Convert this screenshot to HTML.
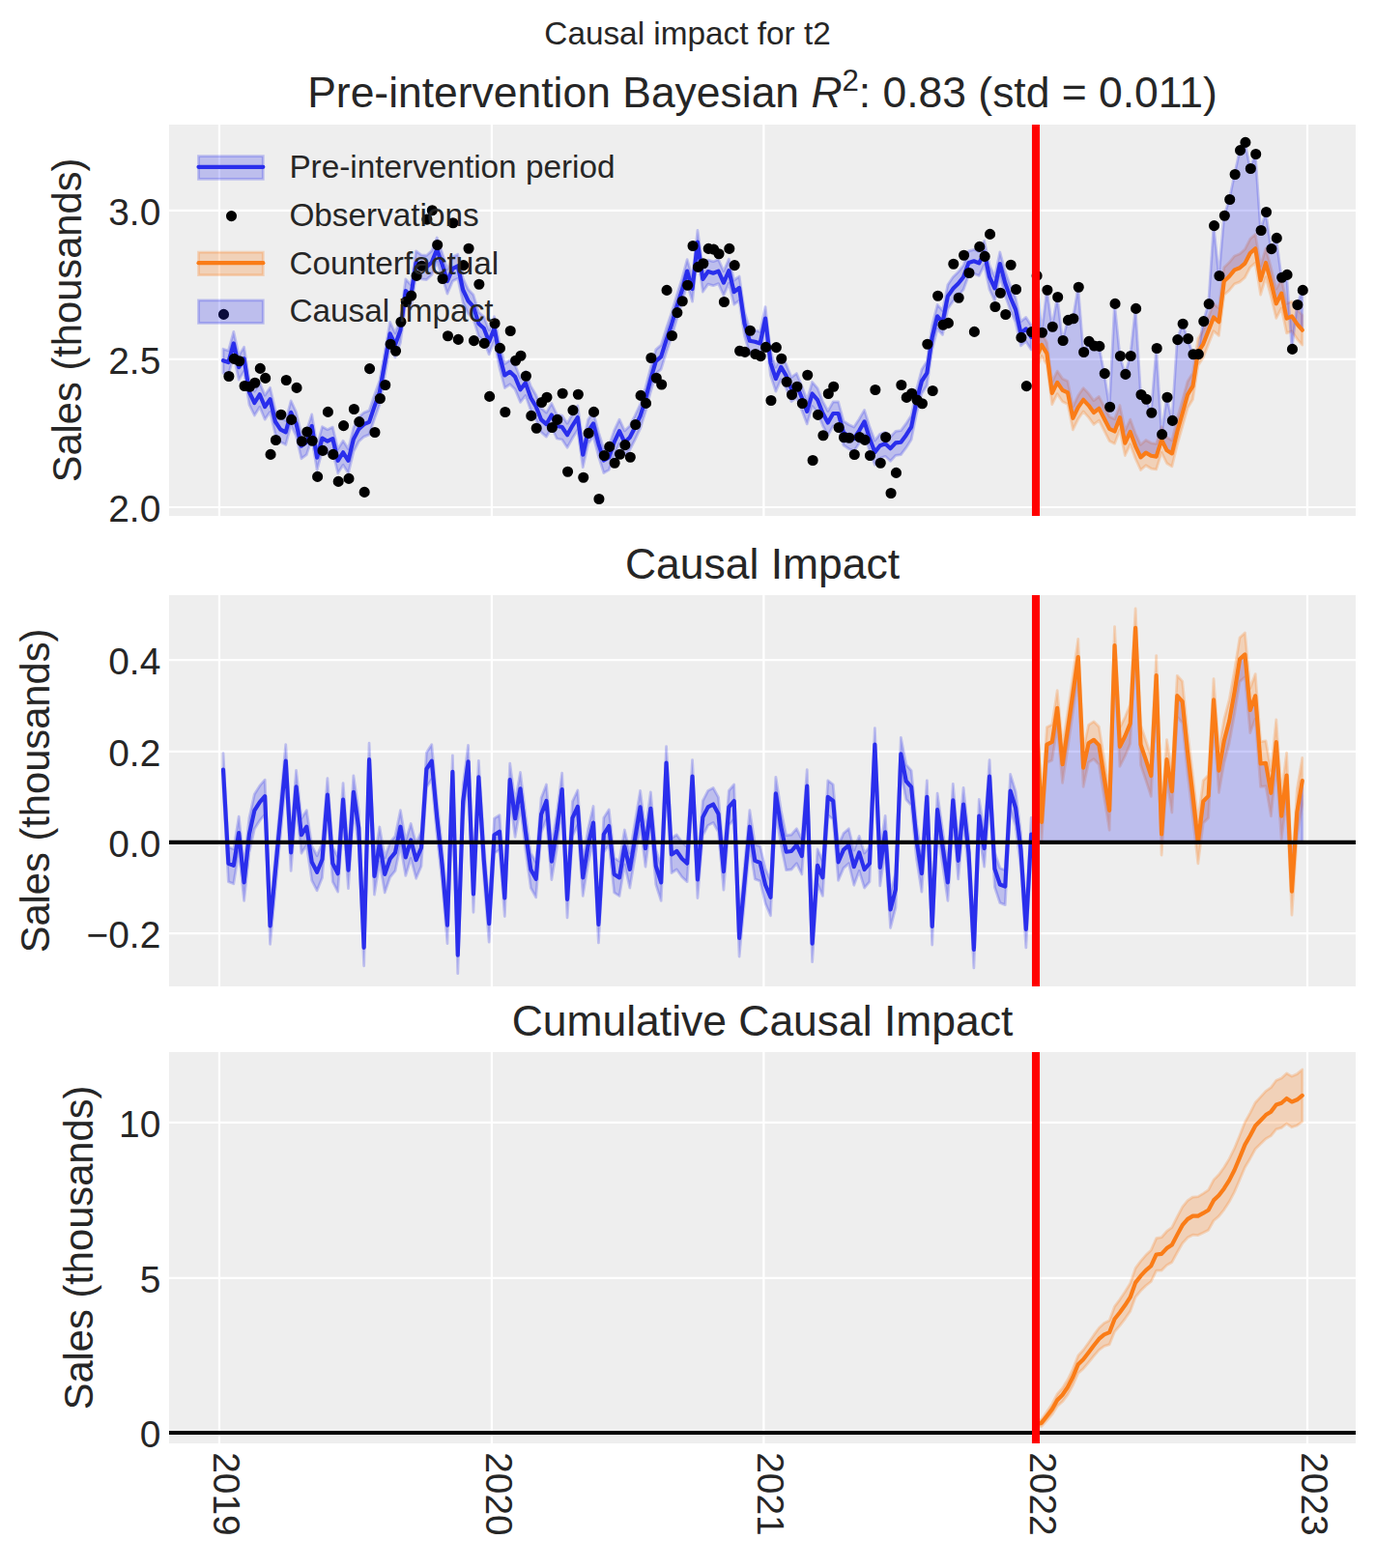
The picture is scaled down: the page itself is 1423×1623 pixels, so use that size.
<!DOCTYPE html>
<html><head><meta charset="utf-8"><title>Causal impact for t2</title>
<style>
html,body{margin:0;padding:0;background:#fff;font-family:"Liberation Sans",sans-serif;}
body{width:1423px;height:1623px;overflow:hidden;}
svg{display:block}
</style></head><body>
<svg width="1423" height="1623" viewBox="0 0 512.28 584.28" style="display:block"><defs><style type="text/css">*{stroke-linejoin: round; stroke-linecap: butt}</style></defs><g id="figure_1"><g id="patch_1"><path d="M 0 584.28 L 512.28 584.28 L 512.28 0 L 0 0 z " style="fill: #ffffff"/></g><g id="axes_1"><g id="patch_2"><path d="M 63 192.24 L 505.08 192.24 L 505.08 46.44 L 63 46.44 z " style="fill: #eeeeee"/></g><g id="matplotlib.axis_1"><g id="xtick_1"><g id="line2d_1"><path d="M 81.72 192.24 L 81.72 46.44 " clip-path="url(#p5110460f84)" style="fill: none; stroke: #ffffff; stroke-width: 0.8; stroke-linecap: round"/></g><g id="line2d_2"/></g><g id="xtick_2"><g id="line2d_3"><path d="M 183.204 192.24 L 183.204 46.44 " clip-path="url(#p5110460f84)" style="fill: none; stroke: #ffffff; stroke-width: 0.8; stroke-linecap: round"/></g><g id="line2d_4"/></g><g id="xtick_3"><g id="line2d_5"><path d="M 284.538727 192.24 L 284.538727 46.44 " clip-path="url(#p5110460f84)" style="fill: none; stroke: #ffffff; stroke-width: 0.8; stroke-linecap: round"/></g><g id="line2d_6"/></g><g id="xtick_4"><g id="line2d_7"><path d="M 385.809363 192.24 L 385.809363 46.44 " clip-path="url(#p5110460f84)" style="fill: none; stroke: #ffffff; stroke-width: 0.8; stroke-linecap: round"/></g><g id="line2d_8"/></g><g id="xtick_5"><g id="line2d_9"><path d="M 487.08 192.24 L 487.08 46.44 " clip-path="url(#p5110460f84)" style="fill: none; stroke: #ffffff; stroke-width: 0.8; stroke-linecap: round"/></g><g id="line2d_10"/></g></g><g id="matplotlib.axis_2"><g id="ytick_1"><g id="line2d_11"><path d="M 63 189 L 505.08 189 " clip-path="url(#p5110460f84)" style="fill: none; stroke: #ffffff; stroke-width: 0.8; stroke-linecap: round"/></g><g id="line2d_12"/><g id="text_1"><text x="59.86" y="194.318906" font-size="14" text-anchor="end" fill="#262626" font-family="Liberation Sans, sans-serif">2.0</text></g></g><g id="ytick_2"><g id="line2d_13"><path d="M 63 133.884 L 505.08 133.884 " clip-path="url(#p5110460f84)" style="fill: none; stroke: #ffffff; stroke-width: 0.8; stroke-linecap: round"/></g><g id="line2d_14"/><g id="text_2"><text x="59.86" y="139.202906" font-size="14" text-anchor="end" fill="#262626" font-family="Liberation Sans, sans-serif">2.5</text></g></g><g id="ytick_3"><g id="line2d_15"><path d="M 63 78.408 L 505.08 78.408 " clip-path="url(#p5110460f84)" style="fill: none; stroke: #ffffff; stroke-width: 0.8; stroke-linecap: round"/></g><g id="line2d_16"/><g id="text_3"><text x="59.86" y="83.726906" font-size="14" text-anchor="end" fill="#262626" font-family="Liberation Sans, sans-serif">3.0</text></g></g><g id="text_4"><text transform="translate(30.116094 119.34) rotate(-90)" font-size="15" text-anchor="middle" fill="#262626" font-family="Liberation Sans, sans-serif">Sales (thousands)</text></g></g><g id="FillBetweenPolyCollection_1"><defs><path id="me326598891" d="M 83.16 -445.248 L 83.16 -454.248 L 85.102177 -453.6 L 87.044353 -460.656 L 88.98653 -451.764 L 90.928706 -454.968 L 92.870883 -442.512 L 94.81306 -438.48 L 96.755236 -441.612 L 98.697413 -437.004 L 100.639589 -439.812 L 102.581766 -431.46 L 104.523943 -428.544 L 106.466119 -427.572 L 108.408296 -434.952 L 110.350472 -430.74 L 112.292649 -422.388 L 114.234825 -423.864 L 116.177002 -429.876 L 118.119179 -418.104 L 120.061355 -425.304 L 122.003532 -424.188 L 123.945708 -425.124 L 125.887885 -416.952 L 127.830062 -420.012 L 129.772238 -416.952 L 131.714415 -424.944 L 133.656591 -428.724 L 135.598768 -430.524 L 137.540945 -431.316 L 139.483121 -437.076 L 141.425298 -442.476 L 143.367474 -453.204 L 145.309651 -464.292 L 147.251828 -460.152 L 149.194004 -465.588 L 151.136181 -480.24 L 153.078357 -478.188 L 155.020534 -490.752 L 156.96271 -489.312 L 158.904887 -489.06 L 160.847064 -490.86 L 162.78924 -495.72 L 164.731417 -490.104 L 166.673593 -483.84 L 168.61577 -488.484 L 170.557947 -489.492 L 172.500123 -480.6 L 174.4423 -476.46 L 176.384476 -474.372 L 178.326653 -468 L 180.26883 -466.308 L 182.211006 -461.268 L 184.153183 -466.308 L 186.095359 -456.228 L 188.037536 -448.74 L 189.979713 -450.072 L 191.921889 -448.164 L 193.864066 -443.412 L 195.806242 -445.896 L 197.748419 -440.388 L 199.690595 -437.148 L 201.632772 -432.216 L 203.574949 -430.524 L 205.517125 -433.98 L 207.459302 -429.84 L 209.401478 -429.48 L 211.343655 -426.528 L 213.285832 -429.984 L 215.228008 -433.08 L 217.170185 -419.148 L 219.112361 -427.896 L 221.054538 -430.74 L 222.996715 -423.252 L 224.938891 -417.06 L 226.881068 -418.176 L 228.823244 -423.828 L 230.765421 -427.968 L 232.707598 -423.756 L 234.649774 -425.628 L 236.591951 -429.408 L 238.534127 -433.584 L 240.476304 -439.812 L 242.41848 -447.3 L 244.360657 -453.996 L 246.302834 -455.724 L 248.24501 -461.952 L 250.187187 -467.64 L 252.129363 -474.228 L 254.07154 -480.348 L 256.013717 -487.584 L 257.955893 -480.96 L 259.89807 -498.42 L 261.840246 -484.56 L 263.782423 -487.404 L 265.7246 -486.828 L 267.666776 -487.584 L 269.608953 -483.228 L 271.551129 -487.764 L 273.493306 -479.808 L 275.435483 -481.32 L 277.377659 -468.036 L 279.319836 -461.592 L 281.262012 -461.232 L 283.204189 -460.656 L 285.146366 -469.944 L 287.088542 -453.384 L 289.030719 -447.444 L 290.972895 -451.872 L 292.915072 -448.596 L 294.857248 -443.664 L 296.799425 -445.14 L 298.741602 -440.388 L 300.683778 -435.276 L 302.625955 -441.9 L 304.568131 -439.632 L 306.510308 -434.7 L 308.452485 -431.1 L 310.394661 -434.52 L 312.336838 -434.52 L 314.279014 -427.392 L 316.221191 -426.06 L 318.163368 -425.16 L 320.105544 -428.112 L 322.047721 -431.496 L 323.989897 -425.232 L 325.932074 -420.084 L 327.874251 -422.568 L 329.816427 -423.252 L 331.758604 -421.488 L 333.70078 -423.576 L 335.642957 -423.828 L 337.585133 -426.456 L 339.52731 -429.516 L 341.469487 -439.128 L 343.411663 -446.58 L 345.35384 -449.604 L 347.296016 -462.996 L 349.238193 -470.772 L 351.18037 -468.54 L 353.122546 -478.188 L 355.064723 -481.032 L 357.006899 -482.94 L 358.949076 -485.388 L 360.891253 -490.716 L 362.833429 -491.292 L 364.775606 -490.536 L 366.717782 -494.532 L 368.659959 -485.388 L 370.602136 -481.212 L 372.544312 -490.32 L 374.486489 -483.12 L 376.428665 -477.792 L 378.370842 -473.256 L 380.313018 -464.472 L 382.255195 -466.056 L 384.197372 -462.996 L 384.197372 -453.996 L 384.197372 -453.996 L 382.255195 -457.056 L 380.313018 -455.472 L 378.370842 -464.256 L 376.428665 -468.792 L 374.486489 -474.12 L 372.544312 -481.32 L 370.602136 -472.212 L 368.659959 -476.388 L 366.717782 -485.532 L 364.775606 -481.536 L 362.833429 -482.292 L 360.891253 -481.716 L 358.949076 -476.388 L 357.006899 -473.94 L 355.064723 -472.032 L 353.122546 -469.188 L 351.18037 -459.54 L 349.238193 -461.772 L 347.296016 -453.996 L 345.35384 -440.604 L 343.411663 -437.58 L 341.469487 -430.128 L 339.52731 -420.516 L 337.585133 -417.456 L 335.642957 -414.828 L 333.70078 -414.576 L 331.758604 -412.488 L 329.816427 -414.252 L 327.874251 -413.568 L 325.932074 -411.084 L 323.989897 -416.232 L 322.047721 -422.496 L 320.105544 -419.112 L 318.163368 -416.16 L 316.221191 -417.06 L 314.279014 -418.392 L 312.336838 -425.52 L 310.394661 -425.52 L 308.452485 -422.1 L 306.510308 -425.7 L 304.568131 -430.632 L 302.625955 -432.9 L 300.683778 -426.276 L 298.741602 -431.388 L 296.799425 -436.14 L 294.857248 -434.664 L 292.915072 -439.596 L 290.972895 -442.872 L 289.030719 -438.444 L 287.088542 -444.384 L 285.146366 -460.944 L 283.204189 -451.656 L 281.262012 -452.232 L 279.319836 -452.592 L 277.377659 -459.036 L 275.435483 -472.32 L 273.493306 -470.808 L 271.551129 -478.764 L 269.608953 -474.228 L 267.666776 -478.584 L 265.7246 -477.828 L 263.782423 -478.404 L 261.840246 -475.56 L 259.89807 -489.42 L 257.955893 -471.96 L 256.013717 -478.584 L 254.07154 -471.348 L 252.129363 -465.228 L 250.187187 -458.64 L 248.24501 -452.952 L 246.302834 -446.724 L 244.360657 -444.996 L 242.41848 -438.3 L 240.476304 -430.812 L 238.534127 -424.584 L 236.591951 -420.408 L 234.649774 -416.628 L 232.707598 -414.756 L 230.765421 -418.968 L 228.823244 -414.828 L 226.881068 -409.176 L 224.938891 -408.06 L 222.996715 -414.252 L 221.054538 -421.74 L 219.112361 -418.896 L 217.170185 -410.148 L 215.228008 -424.08 L 213.285832 -420.984 L 211.343655 -417.528 L 209.401478 -420.48 L 207.459302 -420.84 L 205.517125 -424.98 L 203.574949 -421.524 L 201.632772 -423.216 L 199.690595 -428.148 L 197.748419 -431.388 L 195.806242 -436.896 L 193.864066 -434.412 L 191.921889 -439.164 L 189.979713 -441.072 L 188.037536 -439.74 L 186.095359 -447.228 L 184.153183 -457.308 L 182.211006 -452.268 L 180.26883 -457.308 L 178.326653 -459 L 176.384476 -465.372 L 174.4423 -467.46 L 172.500123 -471.6 L 170.557947 -480.492 L 168.61577 -479.484 L 166.673593 -474.84 L 164.731417 -481.104 L 162.78924 -486.72 L 160.847064 -481.86 L 158.904887 -480.06 L 156.96271 -480.312 L 155.020534 -481.752 L 153.078357 -469.188 L 151.136181 -471.24 L 149.194004 -456.588 L 147.251828 -451.152 L 145.309651 -455.292 L 143.367474 -444.204 L 141.425298 -433.476 L 139.483121 -428.076 L 137.540945 -422.316 L 135.598768 -421.524 L 133.656591 -419.724 L 131.714415 -415.944 L 129.772238 -407.952 L 127.830062 -411.012 L 125.887885 -407.952 L 123.945708 -416.124 L 122.003532 -415.188 L 120.061355 -416.304 L 118.119179 -409.104 L 116.177002 -420.876 L 114.234825 -414.864 L 112.292649 -413.388 L 110.350472 -421.74 L 108.408296 -425.952 L 106.466119 -418.572 L 104.523943 -419.544 L 102.581766 -422.46 L 100.639589 -430.812 L 98.697413 -428.004 L 96.755236 -432.612 L 94.81306 -429.48 L 92.870883 -433.512 L 90.928706 -445.968 L 88.98653 -442.764 L 87.044353 -451.656 L 85.102177 -444.6 L 83.16 -445.248 z " style="stroke: #2a2eec; stroke-opacity: 0.25"/></defs><g clip-path="url(#p5110460f84)"><use href="#me326598891" x="0" y="584.28" style="fill: #2a2eec; fill-opacity: 0.25; stroke: #2a2eec; stroke-opacity: 0.25"/></g></g><g id="FillBetweenPolyCollection_2"><defs><path id="m8832129d74" d="M 386.139548 -446.688 L 386.139548 -454.968 L 388.081725 -459.964235 L 390.023901 -456.788471 L 391.966078 -442.020706 L 393.908255 -446.008941 L 395.850431 -443.193176 L 397.792608 -442.285412 L 399.734784 -432.809647 L 401.676961 -436.833882 L 403.619138 -439.706118 L 405.561314 -437.646353 L 407.503491 -435.010588 L 409.445667 -436.550824 L 411.387844 -432.799059 L 413.330021 -429.047294 L 415.272197 -428.103529 L 417.214374 -433.279765 L 419.15655 -423.804 L 421.098727 -428.008235 L 423.040903 -422.708471 L 424.98308 -418.560706 L 426.925257 -420.316941 L 428.867433 -419.193176 L 430.80961 -418.933412 L 432.751786 -425.261647 L 434.693963 -421.365882 L 436.63614 -420.170118 L 438.578316 -428.262353 L 440.520493 -435.130588 L 442.462669 -442.178824 L 444.404846 -445.375059 L 446.347023 -458.075294 L 448.289199 -461.127529 L 450.231376 -466.159765 L 452.173552 -471.12 L 454.115729 -469.456235 L 456.057906 -484.676471 L 458.000082 -486.504706 L 459.942259 -488.908941 L 461.884435 -489.693176 L 463.826612 -491.413412 L 465.768789 -495.257647 L 467.710965 -496.977882 L 469.653142 -485.162118 L 471.595318 -491.742353 L 473.537495 -484.570588 L 475.479671 -476.570824 L 477.421848 -480.415059 L 479.364025 -471.119294 L 481.306201 -471.939529 L 483.248378 -469.087765 L 485.190554 -466.848 L 485.190554 -455.688 L 485.190554 -455.688 L 483.248378 -457.984235 L 481.306201 -460.892471 L 479.364025 -460.128706 L 477.421848 -469.480941 L 475.479671 -465.693176 L 473.537495 -473.749412 L 471.595318 -480.977647 L 469.653142 -474.453882 L 467.710965 -486.326118 L 465.768789 -484.662353 L 463.826612 -480.874588 L 461.884435 -479.210824 L 459.942259 -478.483059 L 458.000082 -476.135294 L 456.057906 -474.363529 L 454.115729 -459.199765 L 452.173552 -460.92 L 450.231376 -456.016235 L 448.289199 -451.040471 L 446.347023 -448.044706 L 444.404846 -435.400941 L 442.462669 -432.261176 L 440.520493 -425.269412 L 438.578316 -418.457647 L 436.63614 -410.421882 L 434.693963 -411.674118 L 432.751786 -415.626353 L 430.80961 -409.354588 L 428.867433 -409.670824 L 426.925257 -410.851059 L 424.98308 -409.151294 L 423.040903 -413.355529 L 421.098727 -418.711765 L 419.15655 -414.564 L 417.214374 -424.096235 L 415.272197 -418.976471 L 413.330021 -419.976706 L 411.387844 -423.784941 L 409.445667 -427.593176 L 407.503491 -426.109412 L 405.561314 -428.801647 L 403.619138 -430.917882 L 401.676961 -428.102118 L 399.734784 -424.134353 L 397.792608 -433.666588 L 395.850431 -434.630824 L 393.908255 -437.503059 L 391.966078 -433.571294 L 390.023901 -448.395529 L 388.081725 -451.627765 L 386.139548 -446.688 z " style="stroke: #fa7c17; stroke-opacity: 0.25"/></defs><g clip-path="url(#p5110460f84)"><use href="#m8832129d74" x="0" y="584.28" style="fill: #fa7c17; fill-opacity: 0.25; stroke: #fa7c17; stroke-opacity: 0.25"/></g></g><g id="FillBetweenPolyCollection_3"><defs><path id="m20f4b6eb86" d="M 386.139548 -481.536 L 386.139548 -450.828 L 388.081725 -455.796 L 390.023901 -452.592 L 391.966078 -437.796 L 393.908255 -441.756 L 395.850431 -438.912 L 397.792608 -437.976 L 399.734784 -428.472 L 401.676961 -432.468 L 403.619138 -435.312 L 405.561314 -433.224 L 407.503491 -430.56 L 409.445667 -432.072 L 411.387844 -428.292 L 413.330021 -424.512 L 415.272197 -423.54 L 417.214374 -428.688 L 419.15655 -419.184 L 421.098727 -423.36 L 423.040903 -418.032 L 424.98308 -413.856 L 426.925257 -415.584 L 428.867433 -414.432 L 430.80961 -414.144 L 432.751786 -420.444 L 434.693963 -416.52 L 436.63614 -415.296 L 438.578316 -423.36 L 440.520493 -430.2 L 442.462669 -437.22 L 444.404846 -440.388 L 446.347023 -453.06 L 448.289199 -456.084 L 450.231376 -461.088 L 452.173552 -466.02 L 454.115729 -464.328 L 456.057906 -479.52 L 458.000082 -481.32 L 459.942259 -483.696 L 461.884435 -484.452 L 463.826612 -486.144 L 465.768789 -489.96 L 467.710965 -491.652 L 469.653142 -479.808 L 471.595318 -486.36 L 473.537495 -479.16 L 475.479671 -471.132 L 477.421848 -474.948 L 479.364025 -465.624 L 481.306201 -466.416 L 483.248378 -463.536 L 485.190554 -461.268 L 485.190554 -476.136 L 485.190554 -476.136 L 483.248378 -470.7 L 481.306201 -454.176 L 479.364025 -481.896 L 477.421848 -480.852 L 475.479671 -495.576 L 473.537495 -491.544 L 471.595318 -505.26 L 469.653142 -498.42 L 467.710965 -526.86 L 465.768789 -521.46 L 463.826612 -531.216 L 461.884435 -528.264 L 459.942259 -519.3 L 458.000082 -509.94 L 456.057906 -503.892 L 454.115729 -481.5 L 452.173552 -500.184 L 450.231376 -471.024 L 448.289199 -464.544 L 446.347023 -452.304 L 444.404846 -452.268 L 442.462669 -458.064 L 440.520493 -463.572 L 438.578316 -457.704 L 436.63614 -427.536 L 434.693963 -436.212 L 432.751786 -422.424 L 430.80961 -454.5 L 428.867433 -430.452 L 426.925257 -435.492 L 424.98308 -437.22 L 423.040903 -469.296 L 421.098727 -451.62 L 419.15655 -444.816 L 417.214374 -451.62 L 415.272197 -471.096 L 413.330021 -432.648 L 411.387844 -445.104 L 409.445667 -455.256 L 407.503491 -455.4 L 405.561314 -457.056 L 403.619138 -453.06 L 401.676961 -477.252 L 399.734784 -465.552 L 397.792608 -464.976 L 395.850431 -457.38 L 393.908255 -473.58 L 391.966078 -462.492 L 390.023901 -476.172 L 388.081725 -460.332 L 386.139548 -481.536 z " style="stroke: #2a2eec; stroke-opacity: 0.25"/></defs><g clip-path="url(#p5110460f84)"><use href="#m20f4b6eb86" x="0" y="584.28" style="fill: #2a2eec; fill-opacity: 0.25; stroke: #2a2eec; stroke-opacity: 0.25"/></g></g><g id="line2d_17"><path d="M 83.16 134.352 L 85.102177 135 L 87.044353 127.944 L 88.98653 136.836 L 90.928706 133.632 L 92.870883 146.088 L 94.81306 150.12 L 96.755236 146.988 L 98.697413 151.596 L 100.639589 148.788 L 102.581766 157.14 L 104.523943 160.056 L 106.466119 161.028 L 108.408296 153.648 L 110.350472 157.86 L 112.292649 166.212 L 114.234825 164.736 L 116.177002 158.724 L 118.119179 170.496 L 120.061355 163.296 L 122.003532 164.412 L 123.945708 163.476 L 125.887885 171.648 L 127.830062 168.588 L 129.772238 171.648 L 131.714415 163.656 L 133.656591 159.876 L 135.598768 158.076 L 137.540945 157.284 L 139.483121 151.524 L 141.425298 146.124 L 145.309651 124.308 L 147.251828 128.448 L 149.194004 123.012 L 151.136181 108.36 L 153.078357 110.412 L 155.020534 97.848 L 156.96271 99.288 L 158.904887 99.54 L 160.847064 97.74 L 162.78924 92.88 L 164.731417 98.496 L 166.673593 104.76 L 168.61577 100.116 L 170.557947 99.108 L 172.500123 108 L 174.4423 112.14 L 176.384476 114.228 L 178.326653 120.6 L 180.26883 122.292 L 182.211006 127.332 L 184.153183 122.292 L 186.095359 132.372 L 188.037536 139.86 L 189.979713 138.528 L 191.921889 140.436 L 193.864066 145.188 L 195.806242 142.704 L 197.748419 148.212 L 199.690595 151.452 L 201.632772 156.384 L 203.574949 158.076 L 205.517125 154.62 L 207.459302 158.76 L 209.401478 159.12 L 211.343655 162.072 L 213.285832 158.616 L 215.228008 155.52 L 217.170185 169.452 L 219.112361 160.704 L 221.054538 157.86 L 222.996715 165.348 L 224.938891 171.54 L 226.881068 170.424 L 228.823244 164.772 L 230.765421 160.632 L 232.707598 164.844 L 234.649774 162.972 L 236.591951 159.192 L 238.534127 155.016 L 240.476304 148.788 L 242.41848 141.3 L 244.360657 134.604 L 246.302834 132.876 L 248.24501 126.648 L 250.187187 120.96 L 252.129363 114.372 L 254.07154 108.252 L 256.013717 101.016 L 257.955893 107.64 L 259.89807 90.18 L 261.840246 104.04 L 263.782423 101.196 L 265.7246 101.772 L 267.666776 101.016 L 269.608953 105.372 L 271.551129 100.836 L 273.493306 108.792 L 275.435483 107.28 L 277.377659 120.564 L 279.319836 127.008 L 281.262012 127.368 L 283.204189 127.944 L 285.146366 118.656 L 287.088542 135.216 L 289.030719 141.156 L 290.972895 136.728 L 292.915072 140.004 L 294.857248 144.936 L 296.799425 143.46 L 298.741602 148.212 L 300.683778 153.324 L 302.625955 146.7 L 304.568131 148.968 L 306.510308 153.9 L 308.452485 157.5 L 310.394661 154.08 L 312.336838 154.08 L 314.279014 161.208 L 316.221191 162.54 L 318.163368 163.44 L 320.105544 160.488 L 322.047721 157.104 L 323.989897 163.368 L 325.932074 168.516 L 327.874251 166.032 L 329.816427 165.348 L 331.758604 167.112 L 333.70078 165.024 L 335.642957 164.772 L 337.585133 162.144 L 339.52731 159.084 L 341.469487 149.472 L 343.411663 142.02 L 345.35384 138.996 L 347.296016 125.604 L 349.238193 117.828 L 351.18037 120.06 L 353.122546 110.412 L 355.064723 107.568 L 357.006899 105.66 L 358.949076 103.212 L 360.891253 97.884 L 362.833429 97.308 L 364.775606 98.064 L 366.717782 94.068 L 368.659959 103.212 L 370.602136 107.388 L 372.544312 98.28 L 374.486489 105.48 L 376.428665 110.808 L 378.370842 115.344 L 380.313018 124.128 L 382.255195 122.544 L 384.197372 125.604 L 384.197372 125.604 " clip-path="url(#p5110460f84)" style="fill: none; stroke: #2a2eec; stroke-width: 1.5; stroke-linecap: round"/></g><g id="line2d_18"><defs><path id="m0ef9cdae93" d="M 0 1.5 C 0.397805 1.5 0.77937 1.341951 1.06066 1.06066 C 1.341951 0.77937 1.5 0.397805 1.5 0 C 1.5 -0.397805 1.341951 -0.77937 1.06066 -1.06066 C 0.77937 -1.341951 0.397805 -1.5 0 -1.5 C -0.397805 -1.5 -0.77937 -1.341951 -1.06066 -1.06066 C -1.341951 -0.77937 -1.5 -0.397805 -1.5 0 C -1.5 0.397805 -1.341951 0.77937 -1.06066 1.06066 C -0.77937 1.341951 -0.397805 1.5 0 1.5 z " style="stroke: #000000"/></defs><g clip-path="url(#p5110460f84)"><use href="#m0ef9cdae93" x="83.34" y="117.144" style="stroke: #000000"/><use href="#m0ef9cdae93" x="85.282177" y="140.22" style="stroke: #000000"/><use href="#m0ef9cdae93" x="87.224353" y="133.704" style="stroke: #000000"/><use href="#m0ef9cdae93" x="89.16653" y="134.532" style="stroke: #000000"/><use href="#m0ef9cdae93" x="91.108706" y="143.82" style="stroke: #000000"/><use href="#m0ef9cdae93" x="93.050883" y="144.108" style="stroke: #000000"/><use href="#m0ef9cdae93" x="94.99306" y="142.668" style="stroke: #000000"/><use href="#m0ef9cdae93" x="96.935236" y="137.304" style="stroke: #000000"/><use href="#m0ef9cdae93" x="98.877413" y="140.904" style="stroke: #000000"/><use href="#m0ef9cdae93" x="100.819589" y="169.344" style="stroke: #000000"/><use href="#m0ef9cdae93" x="102.761766" y="163.98" style="stroke: #000000"/><use href="#m0ef9cdae93" x="104.703943" y="154.548" style="stroke: #000000"/><use href="#m0ef9cdae93" x="106.646119" y="141.66" style="stroke: #000000"/><use href="#m0ef9cdae93" x="108.588296" y="156.384" style="stroke: #000000"/><use href="#m0ef9cdae93" x="110.530472" y="144.504" style="stroke: #000000"/><use href="#m0ef9cdae93" x="112.472649" y="164.412" style="stroke: #000000"/><use href="#m0ef9cdae93" x="114.414825" y="160.92" style="stroke: #000000"/><use href="#m0ef9cdae93" x="116.357002" y="164.232" style="stroke: #000000"/><use href="#m0ef9cdae93" x="118.299179" y="177.624" style="stroke: #000000"/><use href="#m0ef9cdae93" x="120.241355" y="167.904" style="stroke: #000000"/><use href="#m0ef9cdae93" x="122.183532" y="153.504" style="stroke: #000000"/><use href="#m0ef9cdae93" x="124.125708" y="169.344" style="stroke: #000000"/><use href="#m0ef9cdae93" x="126.067885" y="179.424" style="stroke: #000000"/><use href="#m0ef9cdae93" x="128.010062" y="158.616" style="stroke: #000000"/><use href="#m0ef9cdae93" x="129.952238" y="178.344" style="stroke: #000000"/><use href="#m0ef9cdae93" x="131.894415" y="152.46" style="stroke: #000000"/><use href="#m0ef9cdae93" x="133.836591" y="157.176" style="stroke: #000000"/><use href="#m0ef9cdae93" x="135.778768" y="183.384" style="stroke: #000000"/><use href="#m0ef9cdae93" x="137.720945" y="137.376" style="stroke: #000000"/><use href="#m0ef9cdae93" x="139.663121" y="161.1" style="stroke: #000000"/><use href="#m0ef9cdae93" x="141.605298" y="148.5" style="stroke: #000000"/><use href="#m0ef9cdae93" x="143.547474" y="143.46" style="stroke: #000000"/><use href="#m0ef9cdae93" x="145.489651" y="128.232" style="stroke: #000000"/><use href="#m0ef9cdae93" x="147.431828" y="130.788" style="stroke: #000000"/><use href="#m0ef9cdae93" x="149.374004" y="119.988" style="stroke: #000000"/><use href="#m0ef9cdae93" x="151.316181" y="112.464" style="stroke: #000000"/><use href="#m0ef9cdae93" x="153.258357" y="110.196" style="stroke: #000000"/><use href="#m0ef9cdae93" x="155.200534" y="102.744" style="stroke: #000000"/><use href="#m0ef9cdae93" x="157.14271" y="99.072" style="stroke: #000000"/><use href="#m0ef9cdae93" x="159.084887" y="81.756" style="stroke: #000000"/><use href="#m0ef9cdae93" x="161.027064" y="78.372" style="stroke: #000000"/><use href="#m0ef9cdae93" x="162.96924" y="91.26" style="stroke: #000000"/><use href="#m0ef9cdae93" x="164.911417" y="103.86" style="stroke: #000000"/><use href="#m0ef9cdae93" x="166.853593" y="125.172" style="stroke: #000000"/><use href="#m0ef9cdae93" x="168.79577" y="83.088" style="stroke: #000000"/><use href="#m0ef9cdae93" x="170.737947" y="126.504" style="stroke: #000000"/><use href="#m0ef9cdae93" x="172.680123" y="98.856" style="stroke: #000000"/><use href="#m0ef9cdae93" x="174.6223" y="92.592" style="stroke: #000000"/><use href="#m0ef9cdae93" x="176.564476" y="126.936" style="stroke: #000000"/><use href="#m0ef9cdae93" x="178.506653" y="105.948" style="stroke: #000000"/><use href="#m0ef9cdae93" x="180.44883" y="127.944" style="stroke: #000000"/><use href="#m0ef9cdae93" x="182.391006" y="147.744" style="stroke: #000000"/><use href="#m0ef9cdae93" x="184.333183" y="120.492" style="stroke: #000000"/><use href="#m0ef9cdae93" x="186.275359" y="129.744" style="stroke: #000000"/><use href="#m0ef9cdae93" x="188.217536" y="153.54" style="stroke: #000000"/><use href="#m0ef9cdae93" x="190.159713" y="123.3" style="stroke: #000000"/><use href="#m0ef9cdae93" x="192.101889" y="134.352" style="stroke: #000000"/><use href="#m0ef9cdae93" x="194.044066" y="132.588" style="stroke: #000000"/><use href="#m0ef9cdae93" x="195.986242" y="140.148" style="stroke: #000000"/><use href="#m0ef9cdae93" x="197.928419" y="154.944" style="stroke: #000000"/><use href="#m0ef9cdae93" x="199.870595" y="159.588" style="stroke: #000000"/><use href="#m0ef9cdae93" x="201.812772" y="149.94" style="stroke: #000000"/><use href="#m0ef9cdae93" x="203.754949" y="148.032" style="stroke: #000000"/><use href="#m0ef9cdae93" x="205.697125" y="159.3" style="stroke: #000000"/><use href="#m0ef9cdae93" x="207.639302" y="156.384" style="stroke: #000000"/><use href="#m0ef9cdae93" x="209.581478" y="146.628" style="stroke: #000000"/><use href="#m0ef9cdae93" x="211.523655" y="175.788" style="stroke: #000000"/><use href="#m0ef9cdae93" x="213.465832" y="152.856" style="stroke: #000000"/><use href="#m0ef9cdae93" x="215.408008" y="146.988" style="stroke: #000000"/><use href="#m0ef9cdae93" x="217.350185" y="177.948" style="stroke: #000000"/><use href="#m0ef9cdae93" x="219.292361" y="161.424" style="stroke: #000000"/><use href="#m0ef9cdae93" x="221.234538" y="153.504" style="stroke: #000000"/><use href="#m0ef9cdae93" x="223.176715" y="185.94" style="stroke: #000000"/><use href="#m0ef9cdae93" x="225.118891" y="169.74" style="stroke: #000000"/><use href="#m0ef9cdae93" x="227.061068" y="166.464" style="stroke: #000000"/><use href="#m0ef9cdae93" x="229.003244" y="172.512" style="stroke: #000000"/><use href="#m0ef9cdae93" x="230.945421" y="169.308" style="stroke: #000000"/><use href="#m0ef9cdae93" x="232.887598" y="165.816" style="stroke: #000000"/><use href="#m0ef9cdae93" x="234.829774" y="170.388" style="stroke: #000000"/><use href="#m0ef9cdae93" x="236.771951" y="158.22" style="stroke: #000000"/><use href="#m0ef9cdae93" x="238.714127" y="147.384" style="stroke: #000000"/><use href="#m0ef9cdae93" x="240.656304" y="150.264" style="stroke: #000000"/><use href="#m0ef9cdae93" x="242.59848" y="133.38" style="stroke: #000000"/><use href="#m0ef9cdae93" x="244.540657" y="140.868" style="stroke: #000000"/><use href="#m0ef9cdae93" x="246.482834" y="143.28" style="stroke: #000000"/><use href="#m0ef9cdae93" x="248.42501" y="108.144" style="stroke: #000000"/><use href="#m0ef9cdae93" x="250.367187" y="125.1" style="stroke: #000000"/><use href="#m0ef9cdae93" x="252.309363" y="116.496" style="stroke: #000000"/><use href="#m0ef9cdae93" x="254.25154" y="112.212" style="stroke: #000000"/><use href="#m0ef9cdae93" x="256.193717" y="106.308" style="stroke: #000000"/><use href="#m0ef9cdae93" x="258.135893" y="91.62" style="stroke: #000000"/><use href="#m0ef9cdae93" x="260.07807" y="99.504" style="stroke: #000000"/><use href="#m0ef9cdae93" x="262.020246" y="98.172" style="stroke: #000000"/><use href="#m0ef9cdae93" x="263.962423" y="92.664" style="stroke: #000000"/><use href="#m0ef9cdae93" x="265.9046" y="92.916" style="stroke: #000000"/><use href="#m0ef9cdae93" x="267.846776" y="94.572" style="stroke: #000000"/><use href="#m0ef9cdae93" x="269.788953" y="112.5" style="stroke: #000000"/><use href="#m0ef9cdae93" x="271.731129" y="92.664" style="stroke: #000000"/><use href="#m0ef9cdae93" x="273.673306" y="98.856" style="stroke: #000000"/><use href="#m0ef9cdae93" x="275.615483" y="130.788" style="stroke: #000000"/><use href="#m0ef9cdae93" x="277.557659" y="131.184" style="stroke: #000000"/><use href="#m0ef9cdae93" x="279.499836" y="123.192" style="stroke: #000000"/><use href="#m0ef9cdae93" x="281.442012" y="131.94" style="stroke: #000000"/><use href="#m0ef9cdae93" x="283.384189" y="132.696" style="stroke: #000000"/><use href="#m0ef9cdae93" x="285.326366" y="129.384" style="stroke: #000000"/><use href="#m0ef9cdae93" x="287.268542" y="149.22" style="stroke: #000000"/><use href="#m0ef9cdae93" x="289.210719" y="129.456" style="stroke: #000000"/><use href="#m0ef9cdae93" x="291.152895" y="133.668" style="stroke: #000000"/><use href="#m0ef9cdae93" x="293.095072" y="142.308" style="stroke: #000000"/><use href="#m0ef9cdae93" x="295.037248" y="147.06" style="stroke: #000000"/><use href="#m0ef9cdae93" x="296.979425" y="144.108" style="stroke: #000000"/><use href="#m0ef9cdae93" x="298.921602" y="150.3" style="stroke: #000000"/><use href="#m0ef9cdae93" x="300.863778" y="139.788" style="stroke: #000000"/><use href="#m0ef9cdae93" x="302.805955" y="171.54" style="stroke: #000000"/><use href="#m0ef9cdae93" x="304.748131" y="154.584" style="stroke: #000000"/><use href="#m0ef9cdae93" x="306.690308" y="162.252" style="stroke: #000000"/><use href="#m0ef9cdae93" x="308.632485" y="146.7" style="stroke: #000000"/><use href="#m0ef9cdae93" x="310.574661" y="144.108" style="stroke: #000000"/><use href="#m0ef9cdae93" x="312.516838" y="159.3" style="stroke: #000000"/><use href="#m0ef9cdae93" x="314.459014" y="163.008" style="stroke: #000000"/><use href="#m0ef9cdae93" x="316.401191" y="163.188" style="stroke: #000000"/><use href="#m0ef9cdae93" x="318.343368" y="169.38" style="stroke: #000000"/><use href="#m0ef9cdae93" x="320.285544" y="162.936" style="stroke: #000000"/><use href="#m0ef9cdae93" x="322.227721" y="163.944" style="stroke: #000000"/><use href="#m0ef9cdae93" x="324.169897" y="169.74" style="stroke: #000000"/><use href="#m0ef9cdae93" x="326.112074" y="145.26" style="stroke: #000000"/><use href="#m0ef9cdae93" x="328.054251" y="172.548" style="stroke: #000000"/><use href="#m0ef9cdae93" x="329.996427" y="162.9" style="stroke: #000000"/><use href="#m0ef9cdae93" x="331.938604" y="183.78" style="stroke: #000000"/><use href="#m0ef9cdae93" x="333.88078" y="176.184" style="stroke: #000000"/><use href="#m0ef9cdae93" x="335.822957" y="143.46" style="stroke: #000000"/><use href="#m0ef9cdae93" x="337.765133" y="148.104" style="stroke: #000000"/><use href="#m0ef9cdae93" x="339.70731" y="146.592" style="stroke: #000000"/><use href="#m0ef9cdae93" x="341.649487" y="149.04" style="stroke: #000000"/><use href="#m0ef9cdae93" x="343.591663" y="150.372" style="stroke: #000000"/><use href="#m0ef9cdae93" x="345.53384" y="128.232" style="stroke: #000000"/><use href="#m0ef9cdae93" x="347.476016" y="145.62" style="stroke: #000000"/><use href="#m0ef9cdae93" x="349.418193" y="110.232" style="stroke: #000000"/><use href="#m0ef9cdae93" x="351.36037" y="121.032" style="stroke: #000000"/><use href="#m0ef9cdae93" x="353.302546" y="120.384" style="stroke: #000000"/><use href="#m0ef9cdae93" x="355.244723" y="98.388" style="stroke: #000000"/><use href="#m0ef9cdae93" x="357.186899" y="110.988" style="stroke: #000000"/><use href="#m0ef9cdae93" x="359.129076" y="95.148" style="stroke: #000000"/><use href="#m0ef9cdae93" x="361.071253" y="101.7" style="stroke: #000000"/><use href="#m0ef9cdae93" x="363.013429" y="123.624" style="stroke: #000000"/><use href="#m0ef9cdae93" x="364.955606" y="91.944" style="stroke: #000000"/><use href="#m0ef9cdae93" x="366.897782" y="95.544" style="stroke: #000000"/><use href="#m0ef9cdae93" x="368.839959" y="87.264" style="stroke: #000000"/><use href="#m0ef9cdae93" x="370.782136" y="114.3" style="stroke: #000000"/><use href="#m0ef9cdae93" x="372.724312" y="109.188" style="stroke: #000000"/><use href="#m0ef9cdae93" x="374.666489" y="117.18" style="stroke: #000000"/><use href="#m0ef9cdae93" x="376.608665" y="98.748" style="stroke: #000000"/><use href="#m0ef9cdae93" x="378.550842" y="107.82" style="stroke: #000000"/><use href="#m0ef9cdae93" x="380.493018" y="125.784" style="stroke: #000000"/><use href="#m0ef9cdae93" x="382.435195" y="143.856" style="stroke: #000000"/><use href="#m0ef9cdae93" x="384.377372" y="123.696" style="stroke: #000000"/></g></g><g id="line2d_19"><path d="M 386.139548 133.452 L 388.081725 128.484 L 390.023901 131.688 L 391.966078 146.484 L 393.908255 142.524 L 395.850431 145.368 L 397.792608 146.304 L 399.734784 155.808 L 401.676961 151.812 L 403.619138 148.968 L 405.561314 151.056 L 407.503491 153.72 L 409.445667 152.208 L 411.387844 155.988 L 413.330021 159.768 L 415.272197 160.74 L 417.214374 155.592 L 419.15655 165.096 L 421.098727 160.92 L 423.040903 166.248 L 424.98308 170.424 L 426.925257 168.696 L 428.867433 169.848 L 430.80961 170.136 L 432.751786 163.836 L 434.693963 167.76 L 436.63614 168.984 L 438.578316 160.92 L 440.520493 154.08 L 442.462669 147.06 L 444.404846 143.892 L 446.347023 131.22 L 448.289199 128.196 L 450.231376 123.192 L 452.173552 118.26 L 454.115729 119.952 L 456.057906 104.76 L 458.000082 102.96 L 459.942259 100.584 L 461.884435 99.828 L 463.826612 98.136 L 465.768789 94.32 L 467.710965 92.628 L 469.653142 104.472 L 471.595318 97.92 L 473.537495 105.12 L 475.479671 113.148 L 477.421848 109.332 L 479.364025 118.656 L 481.306201 117.864 L 483.248378 120.744 L 485.190554 123.012 " clip-path="url(#p5110460f84)" style="fill: none; stroke: #fa7c17; stroke-width: 1.5; stroke-linecap: round"/></g><g id="line2d_20"><g clip-path="url(#p5110460f84)"><use href="#m0ef9cdae93" x="386.319548" y="102.744" style="stroke: #000000"/><use href="#m0ef9cdae93" x="388.261725" y="123.948" style="stroke: #000000"/><use href="#m0ef9cdae93" x="390.203901" y="108.108" style="stroke: #000000"/><use href="#m0ef9cdae93" x="392.146078" y="121.788" style="stroke: #000000"/><use href="#m0ef9cdae93" x="394.088255" y="110.7" style="stroke: #000000"/><use href="#m0ef9cdae93" x="396.030431" y="126.9" style="stroke: #000000"/><use href="#m0ef9cdae93" x="397.972608" y="119.304" style="stroke: #000000"/><use href="#m0ef9cdae93" x="399.914784" y="118.728" style="stroke: #000000"/><use href="#m0ef9cdae93" x="401.856961" y="107.028" style="stroke: #000000"/><use href="#m0ef9cdae93" x="403.799138" y="131.22" style="stroke: #000000"/><use href="#m0ef9cdae93" x="405.741314" y="127.224" style="stroke: #000000"/><use href="#m0ef9cdae93" x="407.683491" y="128.88" style="stroke: #000000"/><use href="#m0ef9cdae93" x="409.625667" y="129.024" style="stroke: #000000"/><use href="#m0ef9cdae93" x="411.567844" y="139.176" style="stroke: #000000"/><use href="#m0ef9cdae93" x="413.510021" y="151.632" style="stroke: #000000"/><use href="#m0ef9cdae93" x="415.452197" y="113.184" style="stroke: #000000"/><use href="#m0ef9cdae93" x="417.394374" y="132.66" style="stroke: #000000"/><use href="#m0ef9cdae93" x="419.33655" y="139.464" style="stroke: #000000"/><use href="#m0ef9cdae93" x="421.278727" y="132.66" style="stroke: #000000"/><use href="#m0ef9cdae93" x="423.220903" y="114.984" style="stroke: #000000"/><use href="#m0ef9cdae93" x="425.16308" y="147.06" style="stroke: #000000"/><use href="#m0ef9cdae93" x="427.105257" y="148.788" style="stroke: #000000"/><use href="#m0ef9cdae93" x="429.047433" y="153.828" style="stroke: #000000"/><use href="#m0ef9cdae93" x="430.98961" y="129.78" style="stroke: #000000"/><use href="#m0ef9cdae93" x="432.931786" y="161.856" style="stroke: #000000"/><use href="#m0ef9cdae93" x="434.873963" y="148.068" style="stroke: #000000"/><use href="#m0ef9cdae93" x="436.81614" y="156.744" style="stroke: #000000"/><use href="#m0ef9cdae93" x="438.758316" y="126.576" style="stroke: #000000"/><use href="#m0ef9cdae93" x="440.700493" y="120.708" style="stroke: #000000"/><use href="#m0ef9cdae93" x="442.642669" y="126.216" style="stroke: #000000"/><use href="#m0ef9cdae93" x="444.584846" y="132.012" style="stroke: #000000"/><use href="#m0ef9cdae93" x="446.527023" y="131.976" style="stroke: #000000"/><use href="#m0ef9cdae93" x="448.469199" y="119.736" style="stroke: #000000"/><use href="#m0ef9cdae93" x="450.411376" y="113.256" style="stroke: #000000"/><use href="#m0ef9cdae93" x="452.353552" y="84.096" style="stroke: #000000"/><use href="#m0ef9cdae93" x="454.295729" y="102.78" style="stroke: #000000"/><use href="#m0ef9cdae93" x="456.237906" y="80.388" style="stroke: #000000"/><use href="#m0ef9cdae93" x="458.180082" y="74.34" style="stroke: #000000"/><use href="#m0ef9cdae93" x="460.122259" y="64.98" style="stroke: #000000"/><use href="#m0ef9cdae93" x="462.064435" y="56.016" style="stroke: #000000"/><use href="#m0ef9cdae93" x="464.006612" y="53.064" style="stroke: #000000"/><use href="#m0ef9cdae93" x="465.948789" y="62.82" style="stroke: #000000"/><use href="#m0ef9cdae93" x="467.890965" y="57.42" style="stroke: #000000"/><use href="#m0ef9cdae93" x="469.833142" y="85.86" style="stroke: #000000"/><use href="#m0ef9cdae93" x="471.775318" y="79.02" style="stroke: #000000"/><use href="#m0ef9cdae93" x="473.717495" y="92.736" style="stroke: #000000"/><use href="#m0ef9cdae93" x="475.659671" y="88.704" style="stroke: #000000"/><use href="#m0ef9cdae93" x="477.601848" y="103.428" style="stroke: #000000"/><use href="#m0ef9cdae93" x="479.544025" y="102.384" style="stroke: #000000"/><use href="#m0ef9cdae93" x="481.486201" y="130.104" style="stroke: #000000"/><use href="#m0ef9cdae93" x="483.428378" y="113.58" style="stroke: #000000"/><use href="#m0ef9cdae93" x="485.370554" y="108.144" style="stroke: #000000"/></g></g><g id="line2d_21"><path d="M 385.92 192.24 L 385.92 46.44 " clip-path="url(#p5110460f84)" style="fill: none; stroke: #ff0000; stroke-width: 2.9; stroke-linecap: round"/></g><g id="patch_3"><path d="M 63 192.24 L 63 46.44 " style="fill: none"/></g><g id="patch_4"><path d="M 505.08 192.24 L 505.08 46.44 " style="fill: none"/></g><g id="patch_5"><path d="M 63 192.24 L 505.08 192.24 " style="fill: none"/></g><g id="patch_6"><path d="M 63 46.44 L 505.08 46.44 " style="fill: none"/></g><g id="text_5"><text x="284.04" y="39.9" font-size="16" text-anchor="middle" fill="#262626" font-family="Liberation Sans, sans-serif">Pre-intervention Bayesian <tspan font-style="italic">R</tspan><tspan dy="-6.1" font-size="11.2">2</tspan><tspan dy="6.1">: 0.83 (std = 0.011)</tspan></text></g><g id="patch_7"><path d="M 73.98 58.212 L 98.028 58.212 L 98.028 66.708 L 73.98 66.708 z " style="fill: #2a2eec; fill-opacity: 0.25; stroke: #2a2eec; stroke-opacity: 0.25; stroke-linejoin: miter"/></g><g id="patch_8"><path d="M 73.98 93.996 L 98.028 93.996 L 98.028 102.492 L 73.98 102.492 z " style="fill: #fa7c17; fill-opacity: 0.25; stroke: #fa7c17; stroke-opacity: 0.25; stroke-linejoin: miter"/></g><g id="patch_9"><path d="M 73.98 111.888 L 98.028 111.888 L 98.028 120.384 L 73.98 120.384 z " style="fill: #2a2eec; fill-opacity: 0.25; stroke: #2a2eec; stroke-opacity: 0.25; stroke-linejoin: miter"/></g><g id="line2d_22"><path d="M 73.98 62.208 L 98.028 62.208 " style="fill: none; stroke: #2a2eec; stroke-width: 1.5; stroke-linecap: round"/></g><g id="line2d_23"><g><use href="#m0ef9cdae93" x="86.22" y="80.496" style="stroke: #000000"/></g></g><g id="line2d_24"><path d="M 73.98 97.992 L 98.028 97.992 " style="fill: none; stroke: #fa7c17; stroke-width: 1.5; stroke-linecap: round"/></g><g id="text_6"><text x="107.784" y="66.348" font-size="12" fill="#262626" font-family="Liberation Sans, sans-serif">Pre-intervention period</text></g><g id="text_7"><text x="107.784" y="84.24" font-size="12" fill="#262626" font-family="Liberation Sans, sans-serif">Observations</text></g><g id="text_8"><text x="107.784" y="102.132" font-size="12" fill="#262626" font-family="Liberation Sans, sans-serif">Counterfactual</text></g><g id="text_9"><text x="107.784" y="120.024" font-size="12" fill="#262626" font-family="Liberation Sans, sans-serif">Causal impact</text></g></g><g id="axes_2"><g id="patch_10"><path d="M 63 367.56 L 505.08 367.56 L 505.08 221.76 L 63 221.76 z " style="fill: #eeeeee"/></g><g id="matplotlib.axis_3"><g id="xtick_6"><g id="line2d_25"><path d="M 81.72 367.56 L 81.72 221.76 " clip-path="url(#p95b76c2d3b)" style="fill: none; stroke: #ffffff; stroke-width: 0.8; stroke-linecap: round"/></g><g id="line2d_26"/></g><g id="xtick_7"><g id="line2d_27"><path d="M 183.204 367.56 L 183.204 221.76 " clip-path="url(#p95b76c2d3b)" style="fill: none; stroke: #ffffff; stroke-width: 0.8; stroke-linecap: round"/></g><g id="line2d_28"/></g><g id="xtick_8"><g id="line2d_29"><path d="M 284.538727 367.56 L 284.538727 221.76 " clip-path="url(#p95b76c2d3b)" style="fill: none; stroke: #ffffff; stroke-width: 0.8; stroke-linecap: round"/></g><g id="line2d_30"/></g><g id="xtick_9"><g id="line2d_31"><path d="M 385.809363 367.56 L 385.809363 221.76 " clip-path="url(#p95b76c2d3b)" style="fill: none; stroke: #ffffff; stroke-width: 0.8; stroke-linecap: round"/></g><g id="line2d_32"/></g><g id="xtick_10"><g id="line2d_33"><path d="M 487.08 367.56 L 487.08 221.76 " clip-path="url(#p95b76c2d3b)" style="fill: none; stroke: #ffffff; stroke-width: 0.8; stroke-linecap: round"/></g><g id="line2d_34"/></g></g><g id="matplotlib.axis_4"><g id="ytick_4"><g id="line2d_35"><path d="M 63 347.796 L 505.08 347.796 " clip-path="url(#p95b76c2d3b)" style="fill: none; stroke: #ffffff; stroke-width: 0.8; stroke-linecap: round"/></g><g id="line2d_36"/><g id="text_10"><text x="59.86" y="353.114906" font-size="14" text-anchor="end" fill="#262626" font-family="Liberation Sans, sans-serif">−0.2</text></g></g><g id="ytick_5"><g id="line2d_37"><path d="M 63 313.884 L 505.08 313.884 " clip-path="url(#p95b76c2d3b)" style="fill: none; stroke: #ffffff; stroke-width: 0.8; stroke-linecap: round"/></g><g id="line2d_38"/><g id="text_11"><text x="59.86" y="319.202906" font-size="14" text-anchor="end" fill="#262626" font-family="Liberation Sans, sans-serif">0.0</text></g></g><g id="ytick_6"><g id="line2d_39"><path d="M 63 280.008 L 505.08 280.008 " clip-path="url(#p95b76c2d3b)" style="fill: none; stroke: #ffffff; stroke-width: 0.8; stroke-linecap: round"/></g><g id="line2d_40"/><g id="text_12"><text x="59.86" y="285.326906" font-size="14" text-anchor="end" fill="#262626" font-family="Liberation Sans, sans-serif">0.2</text></g></g><g id="ytick_7"><g id="line2d_41"><path d="M 63 245.916 L 505.08 245.916 " clip-path="url(#p95b76c2d3b)" style="fill: none; stroke: #ffffff; stroke-width: 0.8; stroke-linecap: round"/></g><g id="line2d_42"/><g id="text_13"><text x="59.86" y="251.234906" font-size="14" text-anchor="end" fill="#262626" font-family="Liberation Sans, sans-serif">0.4</text></g></g><g id="text_14"><text transform="translate(18.384531 294.66) rotate(-90)" font-size="15" text-anchor="middle" fill="#262626" font-family="Liberation Sans, sans-serif">Sales (thousands)</text></g></g><g id="FillBetweenPolyCollection_4"><defs><path id="mf9864fe2a3" d="M 83.16 -290.628 L 83.16 -303.588 L 85.102177 -268.668 L 87.044353 -267.912 L 88.98653 -280.044 L 90.928706 -261.576 L 92.870883 -279.54 L 94.81306 -288.396 L 96.755236 -291.456 L 98.697413 -293.724 L 100.639589 -245.412 L 102.581766 -265.536 L 104.523943 -286.128 L 106.466119 -306.864 L 108.408296 -272.736 L 110.350472 -297.252 L 112.292649 -279.288 L 114.234825 -282.348 L 116.177002 -269.172 L 118.119179 -265.392 L 120.061355 -270.18 L 122.003532 -294.228 L 123.945708 -268.668 L 125.887885 -264.888 L 127.830062 -292.464 L 129.772238 -266.148 L 131.714415 -295.236 L 133.656591 -281.88 L 135.598768 -237.312 L 137.540945 -307.368 L 139.483121 -263.88 L 141.425298 -276.12 L 143.367474 -264.636 L 145.309651 -270.36 L 147.251828 -272.736 L 149.194004 -282.348 L 151.136181 -270.936 L 153.078357 -277.38 L 155.020534 -269.928 L 156.96271 -274.5 L 158.904887 -303.84 L 160.847064 -306.864 L 162.78924 -285.948 L 164.731417 -268.272 L 166.673593 -245.664 L 168.61577 -302.832 L 170.557947 -234.504 L 172.500123 -291.708 L 174.4423 -306.612 L 176.384476 -257.292 L 178.326653 -300.816 L 180.26883 -270 L 182.211006 -246.168 L 184.153183 -279.288 L 186.095359 -280.548 L 188.037536 -255.78 L 189.979713 -299.808 L 191.921889 -285.372 L 193.864066 -296.496 L 195.806242 -280.44 L 197.748419 -266.4 L 199.690595 -262.872 L 201.632772 -286.884 L 203.574949 -291.96 L 205.517125 -269.424 L 207.459302 -281.16 L 209.401478 -296.244 L 211.343655 -255.276 L 213.285832 -285.624 L 215.228008 -289.8 L 217.170185 -263.376 L 219.112361 -275.4 L 221.054538 -283.86 L 222.996715 -245.916 L 224.938891 -279.54 L 226.881068 -282.6 L 228.823244 -264.636 L 230.765421 -263.376 L 232.707598 -275.04 L 234.649774 -266.4 L 236.591951 -278.028 L 238.534127 -289.656 L 240.476304 -274.248 L 242.41848 -289.152 L 244.360657 -267.66 L 246.302834 -261.576 L 248.24501 -306.108 L 250.187187 -271.98 L 252.129363 -273.24 L 254.07154 -270.432 L 256.013717 -268.668 L 257.955893 -301.068 L 259.89807 -262.62 L 261.840246 -285.876 L 263.782423 -289.656 L 265.7246 -290.7 L 267.666776 -287.136 L 269.608953 -265.644 L 271.551129 -289.656 L 273.493306 -291.96 L 275.435483 -240.84 L 277.377659 -261.576 L 279.319836 -282.348 L 281.262012 -269.676 L 283.204189 -268.92 L 285.146366 -260.64 L 287.088542 -256.032 L 289.030719 -294.732 L 290.972895 -282.348 L 292.915072 -272.988 L 294.857248 -273.24 L 296.799425 -275.508 L 298.741602 -271.44 L 300.683778 -297.504 L 302.625955 -238.824 L 304.568131 -267.912 L 306.510308 -263.376 L 308.452485 -293.472 L 310.394661 -291.96 L 312.336838 -269.172 L 314.279014 -273.744 L 316.221191 -275.508 L 318.163368 -267.408 L 320.105544 -272.736 L 322.047721 -266.4 L 323.989897 -268.668 L 325.932074 -312.948 L 327.874251 -267.156 L 329.816427 -280.296 L 331.758604 -251.46 L 333.70078 -259.056 L 335.642957 -309.492 L 337.585133 -299.34 L 339.52731 -297.144 L 341.469487 -277.2 L 343.411663 -264.888 L 345.35384 -293.472 L 347.296016 -245.16 L 349.238193 -288.648 L 351.18037 -275.004 L 353.122546 -261.576 L 355.064723 -292.212 L 357.006899 -269.676 L 358.949076 -290.7 L 360.891253 -272.7 L 362.833429 -236.556 L 364.775606 -286.38 L 366.717782 -274.248 L 368.659959 -301.068 L 370.602136 -266.652 L 372.544312 -260.82 L 374.486489 -260.064 L 376.428665 -295.74 L 378.370842 -289.404 L 380.313018 -273.96 L 382.255195 -244.152 L 384.197372 -279.54 L 384.197372 -266.58 L 384.197372 -266.58 L 382.255195 -231.192 L 380.313018 -261 L 378.370842 -276.444 L 376.428665 -282.78 L 374.486489 -247.104 L 372.544312 -247.86 L 370.602136 -253.692 L 368.659959 -288.108 L 366.717782 -261.288 L 364.775606 -273.42 L 362.833429 -223.596 L 360.891253 -259.74 L 358.949076 -277.74 L 357.006899 -256.716 L 355.064723 -279.252 L 353.122546 -248.616 L 351.18037 -262.044 L 349.238193 -275.688 L 347.296016 -232.2 L 345.35384 -280.512 L 343.411663 -251.928 L 341.469487 -264.24 L 339.52731 -284.184 L 337.585133 -286.38 L 335.642957 -296.532 L 333.70078 -246.096 L 331.758604 -238.5 L 329.816427 -267.336 L 327.874251 -254.196 L 325.932074 -299.988 L 323.989897 -255.708 L 322.047721 -253.44 L 320.105544 -259.776 L 318.163368 -254.448 L 316.221191 -262.548 L 314.279014 -260.784 L 312.336838 -256.212 L 310.394661 -279 L 308.452485 -280.512 L 306.510308 -250.416 L 304.568131 -254.952 L 302.625955 -225.864 L 300.683778 -284.544 L 298.741602 -258.48 L 296.799425 -262.548 L 294.857248 -260.28 L 292.915072 -260.028 L 290.972895 -269.388 L 289.030719 -281.772 L 287.088542 -243.072 L 285.146366 -247.68 L 283.204189 -255.96 L 281.262012 -256.716 L 279.319836 -269.388 L 277.377659 -248.616 L 275.435483 -227.88 L 273.493306 -279 L 271.551129 -276.696 L 269.608953 -252.684 L 267.666776 -274.176 L 265.7246 -277.74 L 263.782423 -276.696 L 261.840246 -272.916 L 259.89807 -249.66 L 257.955893 -288.108 L 256.013717 -255.708 L 254.07154 -257.472 L 252.129363 -260.28 L 250.187187 -259.02 L 248.24501 -293.148 L 246.302834 -248.616 L 244.360657 -254.7 L 242.41848 -276.192 L 240.476304 -261.288 L 238.534127 -276.696 L 236.591951 -265.068 L 234.649774 -253.44 L 232.707598 -262.08 L 230.765421 -250.416 L 228.823244 -251.676 L 226.881068 -269.64 L 224.938891 -266.58 L 222.996715 -232.956 L 221.054538 -270.9 L 219.112361 -262.44 L 217.170185 -250.416 L 215.228008 -276.84 L 213.285832 -272.664 L 211.343655 -242.316 L 209.401478 -283.284 L 207.459302 -268.2 L 205.517125 -256.464 L 203.574949 -279 L 201.632772 -273.924 L 199.690595 -249.912 L 197.748419 -253.44 L 195.806242 -267.48 L 193.864066 -283.536 L 191.921889 -272.412 L 189.979713 -286.848 L 188.037536 -242.82 L 186.095359 -267.588 L 184.153183 -266.328 L 182.211006 -233.208 L 180.26883 -257.04 L 178.326653 -287.856 L 176.384476 -244.332 L 174.4423 -293.652 L 172.500123 -278.748 L 170.557947 -221.544 L 168.61577 -289.872 L 166.673593 -232.704 L 164.731417 -255.312 L 162.78924 -272.988 L 160.847064 -293.904 L 158.904887 -290.88 L 156.96271 -261.54 L 155.020534 -256.968 L 153.078357 -264.42 L 151.136181 -257.976 L 149.194004 -269.388 L 147.251828 -259.776 L 145.309651 -257.4 L 143.367474 -251.676 L 141.425298 -263.16 L 139.483121 -250.92 L 137.540945 -294.408 L 135.598768 -224.352 L 133.656591 -268.92 L 131.714415 -282.276 L 129.772238 -253.188 L 127.830062 -279.504 L 125.887885 -251.928 L 123.945708 -255.708 L 122.003532 -281.268 L 120.061355 -257.22 L 118.119179 -252.432 L 116.177002 -256.212 L 114.234825 -269.388 L 112.292649 -266.328 L 110.350472 -284.292 L 108.408296 -259.776 L 106.466119 -293.904 L 104.523943 -273.168 L 102.581766 -252.576 L 100.639589 -232.452 L 98.697413 -280.764 L 96.755236 -278.496 L 94.81306 -275.436 L 92.870883 -266.58 L 90.928706 -248.616 L 88.98653 -267.084 L 87.044353 -254.952 L 85.102177 -255.708 L 83.16 -290.628 z " style="stroke: #2a2eec; stroke-opacity: 0.25"/></defs><g clip-path="url(#p95b76c2d3b)"><use href="#mf9864fe2a3" x="0" y="584.28" style="fill: #2a2eec; fill-opacity: 0.25; stroke: #2a2eec; stroke-opacity: 0.25"/></g></g><g id="FillBetweenPolyCollection_5"><defs><path id="md76a7f1c3d" d="M 386.139548 -310.803105 L 386.139548 -323.876895 L 388.081725 -284.392249 L 390.023901 -313.271604 L 391.966078 -314.322959 L 393.908255 -327.002314 L 395.850431 -306.057668 L 397.792608 -319.025023 L 399.734784 -332.460378 L 401.676961 -346.147733 L 403.619138 -304.971088 L 405.561314 -314.122442 L 407.503491 -315.425797 L 409.445667 -313.453152 L 411.387844 -301.364507 L 413.330021 -289.239861 L 415.272197 -350.771216 L 417.214374 -313.122571 L 419.15655 -317.053926 L 421.098727 -321.813281 L 423.040903 -357.532635 L 424.98308 -314.05199 L 426.925257 -308.335345 L 428.867433 -302.5107 L 430.80961 -339.994054 L 432.751786 -280.817409 L 434.693963 -308.688764 L 436.63614 -296.852119 L 438.578316 -332.535474 L 440.520493 -330.418828 L 442.462669 -311.454183 L 444.404846 -295.477538 L 446.347023 -278.240893 L 448.289199 -293.404247 L 450.231376 -295.463602 L 452.173552 -331.326957 L 454.115729 -305.018312 L 456.057906 -316.185667 L 458.000082 -323.681021 L 459.942259 -334.488376 L 461.884435 -346.699731 L 463.826612 -348.507086 L 465.768789 -327.81444 L 467.710965 -333.149795 L 469.653142 -307.92115 L 471.595318 -308.216505 L 473.537495 -297.09986 L 475.479671 -316.115214 L 477.421848 -288.582569 L 479.364025 -303.817924 L 481.306201 -260.625279 L 483.248378 -290.224634 L 485.190554 -301.931988 L 485.190554 -284.436012 L 485.190554 -284.436012 L 483.248378 -272.815366 L 481.306201 -243.302721 L 479.364025 -286.582076 L 477.421848 -271.433431 L 475.479671 -299.052786 L 473.537495 -280.12414 L 471.595318 -291.327495 L 469.653142 -291.11885 L 467.710965 -316.434205 L 465.768789 -311.18556 L 463.826612 -331.964914 L 461.884435 -330.244269 L 459.942259 -318.119624 L 458.000082 -307.398979 L 456.057906 -299.990333 L 454.115729 -288.909688 L 452.173552 -315.305043 L 450.231376 -279.528398 L 448.289199 -277.555753 L 446.347023 -262.479107 L 444.404846 -279.802462 L 442.462669 -295.865817 L 440.520493 -314.917172 L 438.578316 -317.120526 L 436.63614 -281.523881 L 434.693963 -293.447236 L 432.751786 -265.662591 L 430.80961 -324.925946 L 428.867433 -287.5293 L 426.925257 -293.440655 L 424.98308 -299.24401 L 423.040903 -342.811365 L 421.098727 -307.178719 L 419.15655 -302.506074 L 417.214374 -298.661429 L 415.272197 -336.396784 L 413.330021 -274.952139 L 411.387844 -287.163493 L 409.445667 -299.338848 L 407.503491 -301.398203 L 405.561314 -300.181558 L 403.619138 -291.116912 L 401.676961 -332.380267 L 399.734784 -318.779622 L 397.792608 -305.430977 L 395.850431 -292.550332 L 393.908255 -313.581686 L 391.966078 -300.989041 L 390.023901 -300.024396 L 388.081725 -271.231751 L 386.139548 -310.803105 z " style="stroke: #fa7c17; stroke-opacity: 0.25"/></defs><g clip-path="url(#p95b76c2d3b)"><use href="#md76a7f1c3d" x="0" y="584.28" style="fill: #fa7c17; fill-opacity: 0.25; stroke: #fa7c17; stroke-opacity: 0.25"/></g></g><g id="FillBetweenPolyCollection_6"><defs><path id="m5ab50696ae" d="M 386.139548 -270.396 L 386.139548 -317.52 L 388.081725 -277.992 L 390.023901 -306.828 L 391.966078 -307.836 L 393.908255 -320.472 L 395.850431 -299.484 L 397.792608 -312.408 L 399.734784 -325.8 L 401.676961 -339.444 L 403.619138 -298.224 L 405.561314 -307.332 L 407.503491 -308.592 L 409.445667 -306.576 L 411.387844 -294.444 L 413.330021 -282.276 L 415.272197 -343.764 L 417.214374 -306.072 L 419.15655 -309.96 L 421.098727 -314.676 L 423.040903 -350.352 L 424.98308 -306.828 L 426.925257 -301.068 L 428.867433 -295.2 L 430.80961 -332.64 L 432.751786 -273.42 L 434.693963 -301.248 L 436.63614 -289.368 L 438.578316 -325.008 L 440.520493 -322.848 L 442.462669 -303.84 L 444.404846 -287.82 L 446.347023 -270.54 L 448.289199 -285.66 L 450.231376 -287.676 L 452.173552 -323.496 L 454.115729 -297.144 L 456.057906 -308.268 L 458.000082 -315.72 L 459.942259 -326.484 L 461.884435 -338.652 L 463.826612 -340.416 L 465.768789 -319.68 L 467.710965 -324.972 L 469.653142 -299.7 L 471.595318 -299.952 L 473.537495 -288.792 L 475.479671 -307.764 L 477.421848 -280.188 L 479.364025 -295.38 L 481.306201 -252.144 L 483.248378 -281.7 L 485.190554 -293.364 L 485.190554 -270.396 L 485.190554 -270.396 L 483.248378 -270.396 L 481.306201 -270.396 L 479.364025 -270.396 L 477.421848 -270.396 L 475.479671 -270.396 L 473.537495 -270.396 L 471.595318 -270.396 L 469.653142 -270.396 L 467.710965 -270.396 L 465.768789 -270.396 L 463.826612 -270.396 L 461.884435 -270.396 L 459.942259 -270.396 L 458.000082 -270.396 L 456.057906 -270.396 L 454.115729 -270.396 L 452.173552 -270.396 L 450.231376 -270.396 L 448.289199 -270.396 L 446.347023 -270.396 L 444.404846 -270.396 L 442.462669 -270.396 L 440.520493 -270.396 L 438.578316 -270.396 L 436.63614 -270.396 L 434.693963 -270.396 L 432.751786 -270.396 L 430.80961 -270.396 L 428.867433 -270.396 L 426.925257 -270.396 L 424.98308 -270.396 L 423.040903 -270.396 L 421.098727 -270.396 L 419.15655 -270.396 L 417.214374 -270.396 L 415.272197 -270.396 L 413.330021 -270.396 L 411.387844 -270.396 L 409.445667 -270.396 L 407.503491 -270.396 L 405.561314 -270.396 L 403.619138 -270.396 L 401.676961 -270.396 L 399.734784 -270.396 L 397.792608 -270.396 L 395.850431 -270.396 L 393.908255 -270.396 L 391.966078 -270.396 L 390.023901 -270.396 L 388.081725 -270.396 L 386.139548 -270.396 z " style="stroke: #2a2eec; stroke-opacity: 0.25"/></defs><g clip-path="url(#p95b76c2d3b)"><use href="#m5ab50696ae" x="0" y="584.28" style="fill: #2a2eec; fill-opacity: 0.25; stroke: #2a2eec; stroke-opacity: 0.25"/></g></g><g id="line2d_43"><path d="M 83.16 286.812 L 85.102177 321.732 L 87.044353 322.488 L 88.98653 310.356 L 90.928706 328.824 L 92.870883 310.86 L 94.81306 302.004 L 96.755236 298.944 L 98.697413 296.676 L 100.639589 344.988 L 106.466119 283.536 L 108.408296 317.664 L 110.350472 293.148 L 112.292649 311.112 L 114.234825 308.052 L 116.177002 321.228 L 118.119179 325.008 L 120.061355 320.22 L 122.003532 296.172 L 123.945708 321.732 L 125.887885 325.512 L 127.830062 297.936 L 129.772238 324.252 L 131.714415 295.164 L 133.656591 308.52 L 135.598768 353.088 L 137.540945 283.032 L 139.483121 326.52 L 141.425298 314.28 L 143.367474 325.764 L 145.309651 320.04 L 147.251828 317.664 L 149.194004 308.052 L 151.136181 319.464 L 153.078357 313.02 L 155.020534 320.472 L 156.96271 315.9 L 158.904887 286.56 L 160.847064 283.536 L 162.78924 304.452 L 164.731417 322.128 L 166.673593 344.736 L 168.61577 287.568 L 170.557947 355.896 L 172.500123 298.692 L 174.4423 283.788 L 176.384476 333.108 L 178.326653 289.584 L 180.26883 320.4 L 182.211006 344.232 L 184.153183 311.112 L 186.095359 309.852 L 188.037536 334.62 L 189.979713 290.592 L 191.921889 305.028 L 193.864066 293.904 L 195.806242 309.96 L 197.748419 324 L 199.690595 327.528 L 201.632772 303.516 L 203.574949 298.44 L 205.517125 320.976 L 207.459302 309.24 L 209.401478 294.156 L 211.343655 335.124 L 213.285832 304.776 L 215.228008 300.6 L 217.170185 327.024 L 219.112361 315 L 221.054538 306.54 L 222.996715 344.484 L 224.938891 310.86 L 226.881068 307.8 L 228.823244 325.764 L 230.765421 327.024 L 232.707598 315.36 L 234.649774 324 L 238.534127 300.744 L 240.476304 316.152 L 242.41848 301.248 L 244.360657 322.74 L 246.302834 328.824 L 248.24501 284.292 L 250.187187 318.42 L 252.129363 317.16 L 254.07154 319.968 L 256.013717 321.732 L 257.955893 289.332 L 259.89807 327.78 L 261.840246 304.524 L 263.782423 300.744 L 265.7246 299.7 L 267.666776 303.264 L 269.608953 324.756 L 271.551129 300.744 L 273.493306 298.44 L 275.435483 349.56 L 279.319836 308.052 L 281.262012 320.724 L 283.204189 321.48 L 285.146366 329.76 L 287.088542 334.368 L 289.030719 295.668 L 290.972895 308.052 L 292.915072 317.412 L 294.857248 317.16 L 296.799425 314.892 L 298.741602 318.96 L 300.683778 292.896 L 302.625955 351.576 L 304.568131 322.488 L 306.510308 327.024 L 308.452485 296.928 L 310.394661 298.44 L 312.336838 321.228 L 314.279014 316.656 L 316.221191 314.892 L 318.163368 322.992 L 320.105544 317.664 L 322.047721 324 L 323.989897 321.732 L 325.932074 277.452 L 327.874251 323.244 L 329.816427 310.104 L 331.758604 338.94 L 333.70078 331.344 L 335.642957 280.908 L 337.585133 291.06 L 339.52731 293.256 L 341.469487 313.2 L 343.411663 325.512 L 345.35384 296.928 L 347.296016 345.24 L 349.238193 301.752 L 353.122546 328.824 L 355.064723 298.188 L 357.006899 320.724 L 358.949076 299.7 L 360.891253 317.7 L 362.833429 353.844 L 364.775606 304.02 L 366.717782 316.152 L 368.659959 289.332 L 370.602136 323.748 L 372.544312 329.58 L 374.486489 330.336 L 376.428665 294.66 L 378.370842 300.996 L 380.313018 316.44 L 382.255195 346.248 L 384.197372 310.86 L 384.197372 310.86 " clip-path="url(#p95b76c2d3b)" style="fill: none; stroke: #2a2eec; stroke-width: 1.5; stroke-linecap: round"/></g><g id="line2d_44"><path d="M 386.139548 266.76 L 388.081725 306.288 L 390.023901 277.452 L 391.966078 276.444 L 393.908255 263.808 L 395.850431 284.796 L 397.792608 271.872 L 399.734784 258.48 L 401.676961 244.836 L 403.619138 286.056 L 405.561314 276.948 L 407.503491 275.688 L 409.445667 277.704 L 411.387844 289.836 L 413.330021 302.004 L 415.272197 240.516 L 417.214374 278.208 L 419.15655 274.32 L 421.098727 269.604 L 423.040903 233.928 L 424.98308 277.452 L 426.925257 283.212 L 428.867433 289.08 L 430.80961 251.64 L 432.751786 310.86 L 434.693963 283.032 L 436.63614 294.912 L 438.578316 259.272 L 440.520493 261.432 L 442.462669 280.44 L 444.404846 296.46 L 446.347023 313.74 L 448.289199 298.62 L 450.231376 296.604 L 452.173552 260.784 L 454.115729 287.136 L 456.057906 276.012 L 458.000082 268.56 L 459.942259 257.796 L 461.884435 245.628 L 463.826612 243.864 L 465.768789 264.6 L 467.710965 259.308 L 469.653142 284.58 L 471.595318 284.328 L 473.537495 295.488 L 475.479671 276.516 L 477.421848 304.092 L 479.364025 288.9 L 481.306201 332.136 L 483.248378 302.58 L 485.190554 290.916 " clip-path="url(#p95b76c2d3b)" style="fill: none; stroke: #fa7c17; stroke-width: 1.5; stroke-linecap: round"/></g><g id="line2d_45"><path d="M 63 313.884 L 505.08 313.884 " clip-path="url(#p95b76c2d3b)" style="fill: none; stroke: #000000; stroke-width: 1.5; stroke-linecap: round"/></g><g id="line2d_46"><path d="M 385.92 367.56 L 385.92 221.76 " clip-path="url(#p95b76c2d3b)" style="fill: none; stroke: #ff0000; stroke-width: 2.9; stroke-linecap: round"/></g><g id="patch_11"><path d="M 63 367.56 L 63 221.76 " style="fill: none"/></g><g id="patch_12"><path d="M 505.08 367.56 L 505.08 221.76 " style="fill: none"/></g><g id="patch_13"><path d="M 63 367.56 L 505.08 367.56 " style="fill: none"/></g><g id="patch_14"><path d="M 63 221.76 L 505.08 221.76 " style="fill: none"/></g><g id="text_15"><text x="284.04" y="215.76" font-size="16" text-anchor="middle" fill="#262626" font-family="Liberation Sans, sans-serif">Causal Impact</text></g></g><g id="axes_3"><g id="patch_15"><path d="M 63 537.84 L 505.08 537.84 L 505.08 392.04 L 63 392.04 z " style="fill: #eeeeee"/></g><g id="matplotlib.axis_5"><g id="xtick_11"><g id="line2d_47"><path d="M 81.72 537.84 L 81.72 392.04 " clip-path="url(#p4b4e4730bc)" style="fill: none; stroke: #ffffff; stroke-width: 0.8; stroke-linecap: round"/></g><g id="line2d_48"/><g id="text_16"><text transform="translate(79.584875 541.16) rotate(90)" font-size="14" fill="#262626" font-family="Liberation Sans, sans-serif">2019</text></g></g><g id="xtick_12"><g id="line2d_49"><path d="M 183.204 537.84 L 183.204 392.04 " clip-path="url(#p4b4e4730bc)" style="fill: none; stroke: #ffffff; stroke-width: 0.8; stroke-linecap: round"/></g><g id="line2d_50"/><g id="text_17"><text transform="translate(181.068875 541.16) rotate(90)" font-size="14" fill="#262626" font-family="Liberation Sans, sans-serif">2020</text></g></g><g id="xtick_13"><g id="line2d_51"><path d="M 284.538727 537.84 L 284.538727 392.04 " clip-path="url(#p4b4e4730bc)" style="fill: none; stroke: #ffffff; stroke-width: 0.8; stroke-linecap: round"/></g><g id="line2d_52"/><g id="text_18"><text transform="translate(282.403602 541.16) rotate(90)" font-size="14" fill="#262626" font-family="Liberation Sans, sans-serif">2021</text></g></g><g id="xtick_14"><g id="line2d_53"><path d="M 385.809363 537.84 L 385.809363 392.04 " clip-path="url(#p4b4e4730bc)" style="fill: none; stroke: #ffffff; stroke-width: 0.8; stroke-linecap: round"/></g><g id="line2d_54"/><g id="text_19"><text transform="translate(383.674238 541.16) rotate(90)" font-size="14" fill="#262626" font-family="Liberation Sans, sans-serif">2022</text></g></g><g id="xtick_15"><g id="line2d_55"><path d="M 487.08 537.84 L 487.08 392.04 " clip-path="url(#p4b4e4730bc)" style="fill: none; stroke: #ffffff; stroke-width: 0.8; stroke-linecap: round"/></g><g id="line2d_56"/><g id="text_20"><text transform="translate(484.944875 541.16) rotate(90)" font-size="14" fill="#262626" font-family="Liberation Sans, sans-serif">2023</text></g></g></g><g id="matplotlib.axis_6"><g id="ytick_8"><g id="line2d_57"><path d="M 63 533.88 L 505.08 533.88 " clip-path="url(#p4b4e4730bc)" style="fill: none; stroke: #ffffff; stroke-width: 0.8; stroke-linecap: round"/></g><g id="line2d_58"/><g id="text_21"><text x="59.86" y="539.198906" font-size="14" text-anchor="end" fill="#262626" font-family="Liberation Sans, sans-serif">0</text></g></g><g id="ytick_9"><g id="line2d_59"><path d="M 63 476.244 L 505.08 476.244 " clip-path="url(#p4b4e4730bc)" style="fill: none; stroke: #ffffff; stroke-width: 0.8; stroke-linecap: round"/></g><g id="line2d_60"/><g id="text_22"><text x="59.86" y="481.562906" font-size="14" text-anchor="end" fill="#262626" font-family="Liberation Sans, sans-serif">5</text></g></g><g id="ytick_10"><g id="line2d_61"><path d="M 63 418.284 L 505.08 418.284 " clip-path="url(#p4b4e4730bc)" style="fill: none; stroke: #ffffff; stroke-width: 0.8; stroke-linecap: round"/></g><g id="line2d_62"/><g id="text_23"><text x="59.86" y="423.602906" font-size="14" text-anchor="end" fill="#262626" font-family="Liberation Sans, sans-serif">10</text></g></g><g id="text_24"><text transform="translate(34.565469 464.94) rotate(-90)" font-size="15" text-anchor="middle" fill="#262626" font-family="Liberation Sans, sans-serif">Sales (thousands)</text></g></g><g id="FillBetweenPolyCollection_7"><defs><path id="ma84faa1e5f" d="M 386.139548 -52.767904 L 386.139548 -54.445835 L 388.081725 -55.413176 L 390.023901 -58.260955 L 391.966078 -61.132532 L 393.908255 -64.834317 L 395.850431 -67.086146 L 397.792608 -70.200672 L 399.734784 -74.212992 L 401.676961 -79.142549 L 403.619138 -81.257452 L 405.561314 -83.983908 L 407.503491 -86.788868 L 409.445667 -89.450217 L 411.387844 -91.280216 L 413.330021 -92.276976 L 415.272197 -97.453385 L 417.214374 -100.060476 L 419.15655 -102.928187 L 421.098727 -106.113165 L 423.040903 -111.722557 L 424.98308 -114.366896 L 426.925257 -116.616296 L 428.867433 -118.463591 L 430.80961 -122.856131 L 432.751786 -123.216185 L 434.693963 -125.467655 L 436.63614 -126.908465 L 438.578316 -130.772545 L 440.520493 -134.487643 L 442.462669 -136.907317 L 444.404846 -138.234993 L 446.347023 -138.385005 L 448.289199 -139.562304 L 450.231376 -140.875208 L 452.173552 -144.624203 L 454.115729 -146.578436 L 456.057906 -149.288269 L 458.000082 -152.503868 L 459.942259 -156.450671 L 461.884435 -161.224267 L 463.826612 -166.11669 L 465.768789 -169.596817 L 467.710965 -173.435935 L 469.653142 -175.55415 L 471.595318 -177.688447 L 473.537495 -179.062252 L 475.479671 -181.726132 L 477.421848 -182.512443 L 479.364025 -184.331651 L 481.306201 -183.207654 L 483.248378 -184.094101 L 485.190554 -185.773432 L 485.190554 -166.333432 L 485.190554 -166.333432 L 483.248378 -164.88674 L 481.306201 -164.234673 L 479.364025 -165.594836 L 477.421848 -164.013635 L 475.479671 -163.467221 L 473.537495 -161.045187 L 471.595318 -159.915234 L 469.653142 -158.026857 L 467.710965 -156.156696 L 465.768789 -152.567832 L 463.826612 -149.340236 L 461.884435 -144.702695 L 459.942259 -140.186413 L 458.000082 -136.499446 L 456.057906 -133.546292 L 454.115729 -131.101615 L 452.173552 -129.415353 L 450.231376 -125.937254 L 448.289199 -124.898291 L 446.347023 -123.998106 L 444.404846 -124.12852 L 442.462669 -123.084729 L 440.520493 -120.952559 L 438.578316 -117.528758 L 436.63614 -113.959957 L 434.693963 -112.818612 L 432.751786 -110.871018 L 430.80961 -110.819495 L 428.867433 -106.740411 L 426.925257 -105.211796 L 424.98308 -103.286631 L 423.040903 -100.97245 L 421.098727 -95.699553 L 419.15655 -92.85787 L 417.214374 -90.340784 L 415.272197 -88.092248 L 413.330021 -83.283019 L 411.387844 -82.66287 L 409.445667 -81.219853 L 407.503491 -78.956979 L 405.561314 -76.563331 L 403.619138 -74.26267 L 401.676961 -72.590086 L 399.734784 -68.121972 L 397.792608 -64.593615 L 395.850431 -61.990163 L 393.908255 -60.283015 L 391.966078 -57.169283 L 390.023901 -54.945147 L 388.081725 -52.834405 L 386.139548 -52.767904 z " style="stroke: #fa7c17; stroke-opacity: 0.25"/></defs><g clip-path="url(#p4b4e4730bc)"><use href="#ma84faa1e5f" x="0" y="584.28" style="fill: #fa7c17; fill-opacity: 0.25; stroke: #fa7c17; stroke-opacity: 0.25"/></g></g><g id="line2d_63"><path d="M 386.139548 530.67313 L 388.081725 530.156209 L 390.023901 527.676949 L 391.966078 525.129092 L 393.908255 521.721334 L 395.850431 519.741845 L 397.792608 516.882856 L 399.734784 513.112518 L 401.676961 508.413682 L 403.619138 506.519939 L 405.561314 504.00638 L 407.503491 501.407077 L 409.445667 498.944965 L 411.387844 497.308457 L 413.330021 496.500003 L 415.272197 491.507183 L 417.214374 489.07937 L 419.15655 486.386971 L 421.098727 483.373641 L 423.040903 477.932497 L 424.98308 475.453236 L 426.925257 473.365954 L 428.867433 471.677999 L 430.80961 467.442187 L 432.751786 467.236399 L 434.693963 465.136867 L 436.63614 463.845789 L 438.578316 460.129348 L 440.520493 456.559899 L 442.462669 454.283977 L 444.404846 453.098244 L 446.347023 453.088444 L 448.289199 452.049703 L 450.231376 450.873769 L 452.173552 447.260222 L 454.115729 445.439975 L 456.057906 442.86272 L 458.000082 439.778343 L 459.942259 435.961458 L 461.884435 431.316519 L 463.826612 426.551537 L 465.768789 423.197676 L 467.710965 419.483685 L 469.653142 417.489497 L 471.595318 415.47816 L 473.537495 414.22628 L 475.479671 411.683323 L 477.421848 411.016961 L 479.364025 409.316756 L 481.306201 410.558837 L 483.248378 409.78958 L 485.190554 408.226568 " clip-path="url(#p4b4e4730bc)" style="fill: none; stroke: #fa7c17; stroke-width: 1.5; stroke-linecap: round"/></g><g id="line2d_64"><path d="M 63 533.88 L 505.08 533.88 " clip-path="url(#p4b4e4730bc)" style="fill: none; stroke: #000000; stroke-width: 1.5; stroke-linecap: round"/></g><g id="line2d_65"><path d="M 385.92 537.84 L 385.92 392.04 " clip-path="url(#p4b4e4730bc)" style="fill: none; stroke: #ff0000; stroke-width: 2.9; stroke-linecap: round"/></g><g id="patch_16"><path d="M 63 537.84 L 63 392.04 " style="fill: none"/></g><g id="patch_17"><path d="M 505.08 537.84 L 505.08 392.04 " style="fill: none"/></g><g id="patch_18"><path d="M 63 537.84 L 505.08 537.84 " style="fill: none"/></g><g id="patch_19"><path d="M 63 392.04 L 505.08 392.04 " style="fill: none"/></g><g id="text_25"><text x="284.04" y="386.04" font-size="16" text-anchor="middle" fill="#262626" font-family="Liberation Sans, sans-serif">Cumulative Causal Impact</text></g></g><g id="text_26"><text x="256.14" y="16.48725" font-size="12" text-anchor="middle" fill="#262626" font-family="Liberation Sans, sans-serif">Causal impact for t2</text></g></g><defs><clipPath id="p5110460f84"><rect x="63" y="46.44" width="442.08" height="145.8"/></clipPath><clipPath id="p95b76c2d3b"><rect x="63" y="221.76" width="442.08" height="145.8"/></clipPath><clipPath id="p4b4e4730bc"><rect x="63" y="392.04" width="442.08" height="145.8"/></clipPath></defs></svg> 
</body></html>
